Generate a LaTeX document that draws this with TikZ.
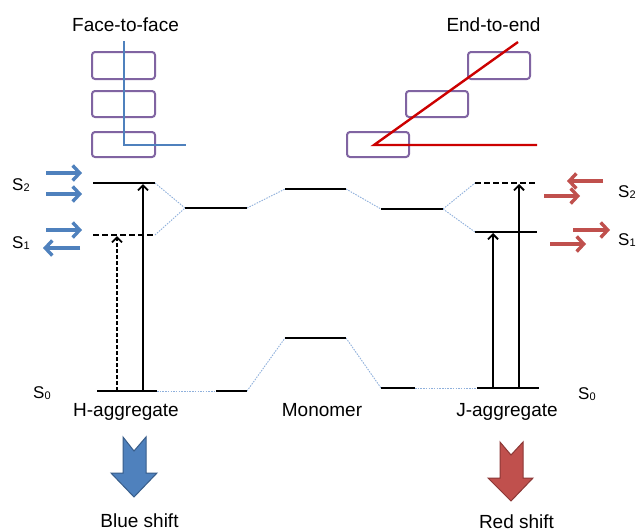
\documentclass[tikz,border=0pt]{standalone}
\usepackage{fontspec}
\setmainfont{Liberation Sans}
\usetikzlibrary{arrows.meta}
\definecolor{oblue}{HTML}{4F81BD}
\definecolor{oblueb}{HTML}{385D8A}
\definecolor{ored}{HTML}{C0504D}
\definecolor{oredb}{HTML}{8C3836}
\definecolor{pred}{HTML}{CC0000}
\definecolor{opurple}{HTML}{8064A2}
\definecolor{dotblue}{HTML}{8FB0DC}
\newcommand{\slab}[2]{S\raisebox{-1.5pt}{\fontsize{11}{11}\selectfont #2}}
\begin{document}
\begin{tikzpicture}[x=1pt,y=-1pt,
  level/.style={line width=2.8pt,black},
  dlevel/.style={level,dash pattern=on 6pt off 3pt},
  link/.style={dotblue,line width=0.9pt,dash pattern=on 1.5pt off 1.2pt},
  mol/.style={draw=opurple,line width=2pt,rounded corners=3pt},
  excite/.style={line width=1.8pt,-{Straight Barb[length=5pt,width=10pt]}},
  dexcite/.style={excite,dash pattern=on 4pt off 2pt},
  barr/.style={oblue,line width=3.4pt,-{Straight Barb[length=7pt,width=15pt]}},
  rarr/.style={ored,line width=3.4pt,-{Straight Barb[length=7pt,width=15pt]}},
  lbl/.style={font=\fontsize{19}{22}\selectfont,inner sep=0pt,anchor=base},
  slbl/.style={font=\fontsize{17}{20}\selectfont,inner sep=0pt,anchor=base west},
  bigarrow/.style={line width=1pt,line join=miter}]
\useasboundingbox (0,0) rectangle (639,531);
\fill[white] (0,0) rectangle (639,531);

% titles
\node[lbl] (tface) at (125.5,31) {Face-to-face};
\node[lbl] (tend) at (493.5,31) {End-to-end};

% molecules
\draw[mol] (92,52) rectangle (155,79);
\draw[mol] (92,91) rectangle (155,117);
\draw[mol] (92,132) rectangle (155,157);
\draw[mol] (468,52) rectangle (530,79);
\draw[mol] (406,91) rectangle (468,117);
\draw[mol] (347,132) rectangle (409,157);
\coordinate (bl1) at (124,41); \coordinate (bl2) at (124,145); \coordinate (bl3) at (186,145);
\draw[oblue,line width=2.8pt] (bl1) -- (bl2) -- (bl3);
\coordinate (rl1) at (518,42); \coordinate (rl2) at (374,145); \coordinate (rl3) at (537,145);
\draw[pred,line width=2.4pt] (rl1) -- (rl2) -- (rl3);

% level endpoints
\coordinate (hs2a) at (93,183);  \coordinate (hs2b) at (155,183);
\coordinate (hs1a) at (93,235);  \coordinate (hs1b) at (155,235);
\coordinate (hs0a) at (97,391);  \coordinate (hs0b) at (157,391);
\coordinate (dha) at (185,208);  \coordinate (dhb) at (247,208);
\coordinate (ms2a) at (285,189); \coordinate (ms2b) at (346,189);
\coordinate (ms0a) at (285,338); \coordinate (ms0b) at (346,338);
\coordinate (dja) at (381,209);  \coordinate (djb) at (443,209);
\coordinate (js2a) at (475,183); \coordinate (js2b) at (537,183);
\coordinate (js1a) at (475,232); \coordinate (js1b) at (537,232);
\coordinate (dh0a) at (216,391); \coordinate (dh0b) at (247,391);
\coordinate (dj0a) at (381,388); \coordinate (dj0b) at (415,388);
\coordinate (js0a) at (477,388); \coordinate (js0b) at (539,388);

% links
\draw[link] (hs2b) -- (dha);
\draw[link] (hs1b) -- (dha);
\draw[link] (dhb) -- (ms2a);
\draw[link] (ms2b) -- (dja);
\draw[link] (djb) -- (js2a);
\draw[link] (djb) -- (js1a);
\draw[link] (hs0b) -- (dh0a);
\draw[link] (dh0b) -- (ms0a);
\draw[link] (ms0b) -- (dj0a);
\draw[link] (dj0b) -- (js0a);

% levels
\draw[level] (hs2a) -- (hs2b);
\draw[dlevel] (hs1a) -- (hs1b);
\draw[level] (hs0a) -- (hs0b);
\draw[level] (dha) -- (dhb);
\draw[level] (ms2a) -- (ms2b);
\draw[level] (ms0a) -- (ms0b);
\draw[level] (dja) -- (djb);
\draw[dlevel] (js2a) -- (js2b);
\draw[level] (js1a) -- (js1b);
\draw[level] (dh0a) -- (dh0b);
\draw[level] (dj0a) -- (dj0b);
\draw[level] (js0a) -- (js0b);

% excitation arrows
\coordinate (ha1) at (117,391); \coordinate (ha1t) at (117,236);
\coordinate (ha2) at (143,391); \coordinate (ha2t) at (143,184);
\coordinate (ja1) at (493,388); \coordinate (ja1t) at (493,233);
\coordinate (ja2) at (519,388); \coordinate (ja2t) at (519,184);
\draw[dexcite] (ha1) -- (ha1t);
\draw[excite] (ha2) -- (ha2t);
\draw[excite] (ja1) -- (ja1t);
\draw[excite] (ja2) -- (ja2t);

% dipole arrows
\coordinate (b1a) at (46,173);  \coordinate (b1b) at (82,173);
\coordinate (b2a) at (46,194);  \coordinate (b2b) at (82,194);
\coordinate (b3a) at (46,230);  \coordinate (b3b) at (82,230);
\coordinate (b4a) at (80,248);  \coordinate (b4b) at (43,248);
\draw[barr] (b1a) -- (b1b);
\draw[barr] (b2a) -- (b2b);
\draw[barr] (b3a) -- (b3b);
\draw[barr] (b4a) -- (b4b);
\coordinate (r1a) at (603,181); \coordinate (r1b) at (567,181);
\coordinate (r2a) at (544,196); \coordinate (r2b) at (580,196);
\coordinate (r3a) at (573,230); \coordinate (r3b) at (610,230);
\coordinate (r4a) at (550,244); \coordinate (r4b) at (586,244);
\draw[rarr] (r1a) -- (r1b);
\draw[rarr] (r2a) -- (r2b);
\draw[rarr] (r3a) -- (r3b);
\draw[rarr] (r4a) -- (r4b);

% state labels
\node[slbl] (ls2) at (12,190) {\slab{}{2}};
\node[slbl] (ls1) at (12,248) {\slab{}{1}};
\node[slbl] (ls0) at (33,398) {\slab{}{0}};
\node[slbl] (rs2) at (618,197) {\slab{}{2}};
\node[slbl] (rs1) at (618,245) {\slab{}{1}};
\node[slbl] (rs0) at (578,399) {\slab{}{0}};

% bottom labels
\node[lbl] (th) at (126,416) {H-aggregate};
\node[lbl] (tm) at (322,416) {Monomer};
\node[lbl] (tj) at (507,416) {J-aggregate};

% big arrows
\draw[bigarrow,fill=oblue,draw=oblueb] (123,437) -- (134,451) -- (146,437) -- (146,473) -- (157,473) -- (134,497) -- (111,473) -- (123,473) -- cycle;
\draw[bigarrow,fill=ored,draw=oredb] (500,442) -- (511,455) -- (523,442) -- (523,478) -- (533,478) -- (511,501) -- (488,478) -- (500,478) -- cycle;

\node[lbl] (tblue) at (139.5,527) {Blue shift};
\node[lbl] (tred) at (516.5,528) {Red shift};
\end{tikzpicture}
\end{document}
